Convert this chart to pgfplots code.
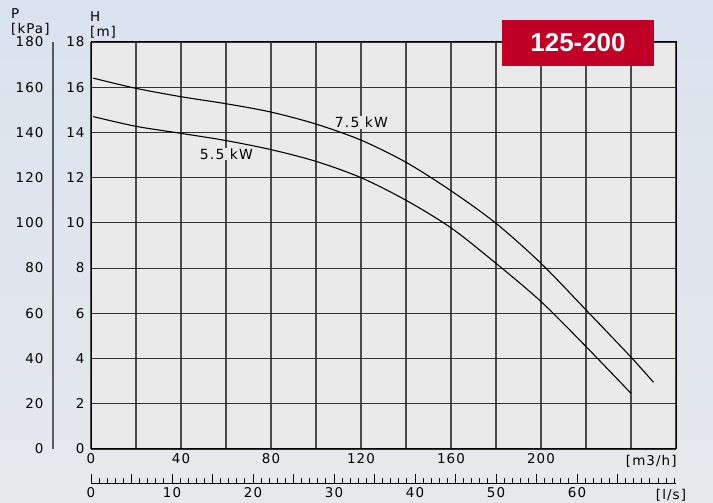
\documentclass[border=0pt]{standalone}
\usepackage{fontspec}
\setmainfont{DejaVu Sans}[LetterSpace=8]
\newfontfamily\boxfont{Liberation Sans}
\usepackage{pgfplots}
\pgfplotsset{compat=1.18}
\definecolor{plotbg}{HTML}{EAEAEA}
\definecolor{gridv}{HTML}{4A4A4A}
\definecolor{gridh}{HTML}{303030}
\definecolor{boxred}{HTML}{C00025}
\definecolor{bgtop}{HTML}{D9E3EF}
\definecolor{bgbot}{HTML}{E6E9EC}
\definecolor{paxis}{HTML}{5A5A5A}
\begin{document}
\begin{tikzpicture}[x=1bp,y=1bp]
\useasboundingbox (0,0) rectangle (713,503);
\shade[top color=bgtop, bottom color=bgbot] (0,0) rectangle (713,503);
% P axis
\begin{axis}[at={(53bp,54bp)}, anchor=south west, scale only axis,
  width=20bp, height=407bp, xmin=0, xmax=1, ymin=0, ymax=180,
  hide x axis, axis y line*=left,
  y axis line style={-, draw=paxis, line width=1.8bp},
  ytick={0,20,...,180}, major tick length=0pt,
  /pgf/number format/assume math mode=true,
  yticklabel style={font=\fontsize{13.5}{15}\selectfont, xshift=-6bp}]
\addplot[draw=none] coordinates {(0,0)};
\end{axis}
% l/s axis
\begin{axis}[at={(91bp,20bp)}, anchor=south west, scale only axis,
  width=585bp, height=10bp, xmin=0, xmax=72.2222, ymin=0, ymax=1,
  hide y axis, axis x line*=bottom,
  x axis line style={-, draw=black, line width=0.9bp},
  xtick={0,10,...,60}, minor xtick={0,1,...,72},
  extra x ticks={5,15,...,65}, extra x tick labels={},
  xtick align=inside, major tick length=9bp, minor tick length=4.5bp,
  every tick/.style={black, line width=0.9bp},
  /pgf/number format/assume math mode=true,
  xticklabel style={font=\fontsize{13.5}{15}\selectfont, yshift=-1bp},
  clip=false]
\addplot[draw=none] coordinates {(0,0)};
\node[anchor=north, font=\fontsize{13.5}{15}\selectfont] at (axis cs:71.6,0) [yshift=-3bp] {[l/s]};
\end{axis}
% main axis
\begin{axis}[at={(91bp,54bp)}, anchor=south west, scale only axis,
  width=585bp, height=407bp, xmin=0, xmax=260, ymin=0, ymax=18,
  axis background/.style={fill=plotbg},
  xtick={0,20,...,260}, xticklabels={0,,40,,80,,120,,160,,200,,,},
  ytick={0,2,...,18},
  grid=major,
  x grid style={draw=gridv, line width=1.4bp},
  y grid style={draw=gridh, line width=0.9bp},
  major tick length=0pt,
  axis line style={black, line width=1bp},
  /pgf/number format/assume math mode=true,
  tick label style={font=\fontsize{13.5}{15}\selectfont},
  xticklabel style={yshift=-1bp},
  yticklabel style={xshift=-3bp},
  clip mode=individual]
\node[fill=plotbg, inner sep=1bp, font=\fontsize{14}{16}\selectfont] at (axis cs:120.2,14.43) {7.5 kW};
\node[fill=plotbg, inner sep=1bp, font=\fontsize{14}{16}\selectfont] at (axis cs:60.2,13.05) {5.5 kW};
\addplot[black, line width=1.1bp, smooth] coordinates {
(1,16.4) (20,15.95) (40,15.58) (60,15.27) (80,14.9) (100,14.37) (120,13.66)
(140,12.68) (160,11.42) (180,9.98) (200,8.21) (220,6.15) (240,4.06) (250,2.95)};
\addplot[black, line width=1.1bp, smooth] coordinates {
(1,14.7) (20,14.27) (40,13.96) (60,13.64) (80,13.24) (100,12.72) (120,12.0)
(140,11.0) (160,9.78) (180,8.21) (200,6.52) (220,4.53) (240,2.46)};
\node[anchor=north, font=\fontsize{13.5}{15}\selectfont] at (axis cs:249,0) [yshift=-3bp] {[m3/h]};
\end{axis}
% titles
\node[anchor=north west, align=left, inner sep=0pt, font=\fontsize{13.5}{15}\selectfont] at (11,494) {P\\{[kPa]}};
\node[anchor=north west, align=left, inner sep=0pt, font=\fontsize{13.5}{15}\selectfont] at (90,491) {H\\{[m]}};
% badge
\fill[boxred] (502,437) rectangle (654,483);
\node[text=white, font=\boxfont\bfseries\fontsize{26}{30}\selectfont] at (578,460) {125-200};
\end{tikzpicture}
\end{document}
